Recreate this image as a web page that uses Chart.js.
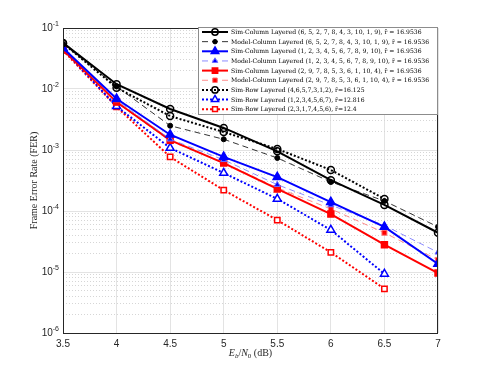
<!DOCTYPE html>
<html>
<head>
<meta charset="utf-8">
<script src="https://cdn.jsdelivr.net/npm/chart.js@4.4.0/dist/chart.umd.min.js"></script>
<style>
  html, body { margin: 0; padding: 0; background: #fff; }
</style>
</head>
<body>
<canvas id="ferChart" width="485" height="372"></canvas>
<script>
// Eb/N0 points (dB)
const snr = [3.5, 4, 4.5, 5, 5.5, 6, 6.5, 7];

// column layered schedules, simulated and model
const simColA = [0.057, 0.012, 0.0047, 0.0023, 9.5e-4, 3.2e-4, 1.26e-4, 4.4e-5];
const modelColA = [0.055, 0.011, 0.0025, 0.0015, 7.4e-4, 3.0e-4, 1.46e-4, 5.5e-5];
const simColB = [0.047, 0.0069, 0.00178, 7.7e-4, 3.6e-4, 1.4e-4, 5.5e-5, 1.36e-5];
const modelColB = [0.046, 0.0066, 0.0015, 6.9e-4, 2.7e-4, 1.25e-4, 5.8e-5, 2.1e-5];
const simColC = [0.044, 0.0061, 0.00145, 6.1e-4, 2.3e-4, 8.9e-5, 2.8e-5, 9.6e-6];
const modelColC = [0.044, 0.0060, 0.0014, 6.2e-4, 2.4e-4, 1.08e-4, 4.4e-5, 1.58e-5];

// row layered schedules (simulated up to 6.5 dB)
const simRowA = [0.056, 0.0105, 0.0036, 0.00197, 1.04e-3, 4.7e-4, 1.58e-4];
const simRowB = [0.045, 0.0052, 0.00108, 4.2e-4, 1.58e-4, 4.9e-5, 9.3e-6];
const simRowC = [0.043, 0.0051, 7.7e-4, 2.2e-4, 7.1e-5, 2.1e-5, 5.3e-6];

const seriesLabels = [
    'Sim-Column Layered (6, 5, 2, 7, 8, 4, 3, 10, 1, 9), r\u0304 = 16.9536',
    'Model-Column Layered (6, 5, 2, 7, 8, 4, 3, 10, 1, 9), r\u0304 = 16.9536',
    'Sim-Column Layered (1, 2, 3, 4, 5, 6, 7, 8, 9, 10), r\u0304 = 16.9536',
    'Model-Column Layered (1, 2, 3, 4, 5, 6, 7, 8, 9, 10), r\u0304 = 16.9536',
    'Sim-Column Layered (2, 9, 7, 8, 5, 3, 6, 1, 10, 4), r\u0304 = 16.9536',
    'Model-Column Layered (2, 9, 7, 8, 5, 3, 6, 1, 10, 4), r\u0304 = 16.9536',
    'Sim-Row Layered (4,6,5,7,3,1,2), r\u0304=16.125',
    'Sim-Row Layered (1,2,3,4,5,6,7), r\u0304=12.816',
    'Sim-Row Layered (2,3,1,7,4,5,6), r\u0304=12.4'
];

const yDecades = [-6, -5, -4, -3, -2, -1];

function pts(values) {
    return values.map((v, i) => ({ x: snr[i], y: v }));
}

function series(label, values, color, width, dash, style, radius, fill) {
    return {
        label: label,
        data: pts(values),
        borderColor: color,
        borderWidth: width,
        borderDash: dash,
        pointStyle: style,
        pointRadius: radius,
        pointHoverRadius: radius,
        pointBorderColor: color,
        pointBackgroundColor: fill,
        pointBorderWidth: width > 1.5 ? 1.5 : 1,
        fill: false,
        tension: 0
    };
}

const datasets = [
    series(seriesLabels[0], simColA, '#000000', 2, [], 'circle', 3.5, 'rgba(0,0,0,0)'),
    series(seriesLabels[1], modelColA, '#000000', 0.8, [6, 4], 'circle', 2.5, '#000000'),
    series(seriesLabels[2], simColB, '#0000ff', 2, [], 'triangle', 4.8, '#0000ff'),
    series(seriesLabels[3], modelColB, '#6f6fff', 0.8, [6, 4], 'triangle', 3.5, '#0000ff'),
    series(seriesLabels[4], simColC, '#ff0000', 2, [], 'rect', 4.2, '#ff0000'),
    series(seriesLabels[5], modelColC, '#ff6f6f', 0.8, [6, 4], 'rect', 3.5, '#ff0000'),
    series(seriesLabels[6], simRowA, '#000000', 2, [2, 2], 'circle', 3.5, 'rgba(0,0,0,0)'),
    series(seriesLabels[7], simRowB, '#0000ff', 2, [2, 2], 'triangle', 4.6, '#ffffff'),
    series(seriesLabels[8], simRowC, '#ff0000', 2, [2, 2], 'rect', 3.8, '#ffffff')
];

function markerPath(ctx, style, x, y, r) {
    ctx.beginPath();
    if (style === 'circle') {
        ctx.arc(x, y, r, 0, Math.PI * 2);
    } else if (style === 'triangle') {
        ctx.moveTo(x, y - r);
        ctx.lineTo(x + r * 0.866, y + r * 0.5);
        ctx.lineTo(x - r * 0.866, y + r * 0.5);
        ctx.closePath();
    } else {
        const s = Math.SQRT1_2 * r;
        ctx.rect(x - s, y - s, 2 * s, 2 * s);
    }
}

const decorPlugin = {
    id: 'decor',
    afterDraw(chart) {
        const ctx = chart.ctx;
        const a = chart.chartArea;
        const yScale = chart.scales.y;
        ctx.save();

        // axes box
        ctx.strokeStyle = '#262626';
        ctx.lineWidth = 1;
        ctx.setLineDash([]);
        ctx.strokeRect(a.left + 0.5, a.top + 0.5, a.right - a.left - 1, a.bottom - a.top);

        // y tick labels 10^n
        ctx.fillStyle = '#262626';
        ctx.textBaseline = 'middle';
        yDecades.forEach(e => {
            const py = yScale.getPixelForValue(Math.pow(10, e));
            ctx.font = '7px "Liberation Sans", Arial, sans-serif';
            const expText = String(e);
            const ew = ctx.measureText(expText).width;
            ctx.textAlign = 'right';
            ctx.fillText(expText, a.left - 4, py - 4);
            ctx.font = '10px "Liberation Sans", Arial, sans-serif';
            ctx.fillText('10', a.left - 4 - ew, py);
        });

        // y title
        ctx.save();
        ctx.translate(34, (a.top + a.bottom) / 2);
        ctx.rotate(-Math.PI / 2);
        ctx.font = '10px "Liberation Serif", "DejaVu Serif", serif';
        ctx.textAlign = 'center';
        ctx.fillStyle = '#262626';
        ctx.fillText('Frame Error Rate (FER)', 0, 0);
        ctx.restore();

        // x title: E_b/N_0 (dB)
        const parts = [
            { t: 'E', f: 'italic 10px "Liberation Serif", serif', dy: 0 },
            { t: 'b', f: 'italic 7px "Liberation Serif", serif', dy: 3 },
            { t: '/', f: '10px "Liberation Serif", serif', dy: 0 },
            { t: 'N', f: 'italic 10px "Liberation Serif", serif', dy: 0 },
            { t: '0', f: '7px "Liberation Serif", serif', dy: 3 },
            { t: ' (dB)', f: '10px "Liberation Serif", serif', dy: 0 }
        ];
        let total = 0;
        parts.forEach(p => { ctx.font = p.f; p.w = ctx.measureText(p.t).width; total += p.w; });
        let tx = (a.left + a.right) / 2 - total / 2;
        ctx.textAlign = 'left';
        parts.forEach(p => {
            ctx.font = p.f;
            ctx.fillText(p.t, tx, 353 + p.dy);
            tx += p.w;
        });

        // legend
        const lx = 198, ly = 27, lw = a.right - 198, lh = 88;
        ctx.fillStyle = '#ffffff';
        ctx.fillRect(lx, ly, lw, lh);
        ctx.strokeStyle = '#8c8c8c';
        ctx.lineWidth = 1;
        ctx.strokeRect(lx + 0.5, ly + 0.5, lw - 1, lh - 1);

        // fit legend font so the longest label spans about 200 px
        const fam = '"DejaVu Serif", "Liberation Serif", serif';
        ctx.font = '10px ' + fam;
        let widest = 0;
        chart.data.datasets.forEach(ds => { widest = Math.max(widest, ctx.measureText(ds.label).width); });
        const fs = Math.min(9, 10 * 198 / widest);
        const legendFont = fs.toFixed(2) + 'px ' + fam;

        const rowH = 9.65;
        chart.data.datasets.forEach((ds, i) => {
            const cy = ly + 5 + rowH * i;
            ctx.strokeStyle = ds.borderColor;
            ctx.lineWidth = ds.borderWidth;
            ctx.setLineDash(ds.borderDash);
            ctx.beginPath();
            ctx.moveTo(lx + 4, cy);
            ctx.lineTo(lx + 30, cy);
            ctx.stroke();
            ctx.setLineDash([]);
            markerPath(ctx, ds.pointStyle, lx + 17, cy, ds.pointRadius * 0.9);
            ctx.fillStyle = ds.pointBackgroundColor;
            ctx.fill();
            ctx.lineWidth = ds.pointBorderWidth;
            ctx.strokeStyle = ds.pointBorderColor;
            ctx.stroke();
            ctx.fillStyle = '#000000';
            ctx.font = legendFont;
            ctx.textAlign = 'left';
            ctx.textBaseline = 'middle';
            ctx.fillText(ds.label, lx + 33, cy + 0.5);
        });
        ctx.restore();
    }
};

const chart = new Chart(document.getElementById('ferChart').getContext('2d'), {
    type: 'line',
    data: { datasets: datasets },
    plugins: [decorPlugin],
    options: {
        responsive: false,
        animation: false,
        layout: { padding: { left: 0, top: 28, right: 47, bottom: 0 } },
        plugins: {
            legend: { display: false },
            tooltip: { enabled: false }
        },
        scales: {
            x: {
                type: 'linear',
                min: 3.5,
                max: 7,
                ticks: {
                    stepSize: 0.5,
                    padding: 5,
                    color: '#262626',
                    font: { family: '"Liberation Sans", Arial, sans-serif', size: 10 },
                    maxRotation: 0,
                    callback: v => String(v)
                },
                grid: { color: '#e3e3e3', lineWidth: 1, drawTicks: false },
                border: { display: false },
                afterFit(scale) { scale.height = 39; }
            },
            y: {
                type: 'logarithmic',
                min: 1e-6,
                max: 1e-1,
                ticks: {
                    autoSkip: false,
                    callback: () => ''
                },
                afterBuildTicks(scale) {
                    const t = [];
                    yDecades.forEach(e => {
                        for (let m = 1; m <= 9; m++) {
                            const v = m * Math.pow(10, e - 1);
                            if (e - 1 >= -6) t.push({ value: v });
                        }
                    });
                    t.push({ value: 1e-1 });
                    scale.ticks = t;
                },
                grid: {
                    drawTicks: false,
                    color: c => {
                        const v = c.tick ? c.tick.value : 1;
                        const isDecade = Math.abs(Math.log10(v) - Math.round(Math.log10(v))) < 1e-6;
                        return isDecade ? '#e3e3e3' : '#d6d6d6';
                    }
                },
                border: {
                    display: false,
                    dash: c => {
                        if (!c.tick) return [];
                        const v = c.tick.value;
                        const isDecade = Math.abs(Math.log10(v) - Math.round(Math.log10(v))) < 1e-6;
                        return isDecade ? [] : [1, 2];
                    }
                },
                afterFit(scale) { scale.width = 63; }
            }
        }
    }
});
</script>
</body>
</html>
